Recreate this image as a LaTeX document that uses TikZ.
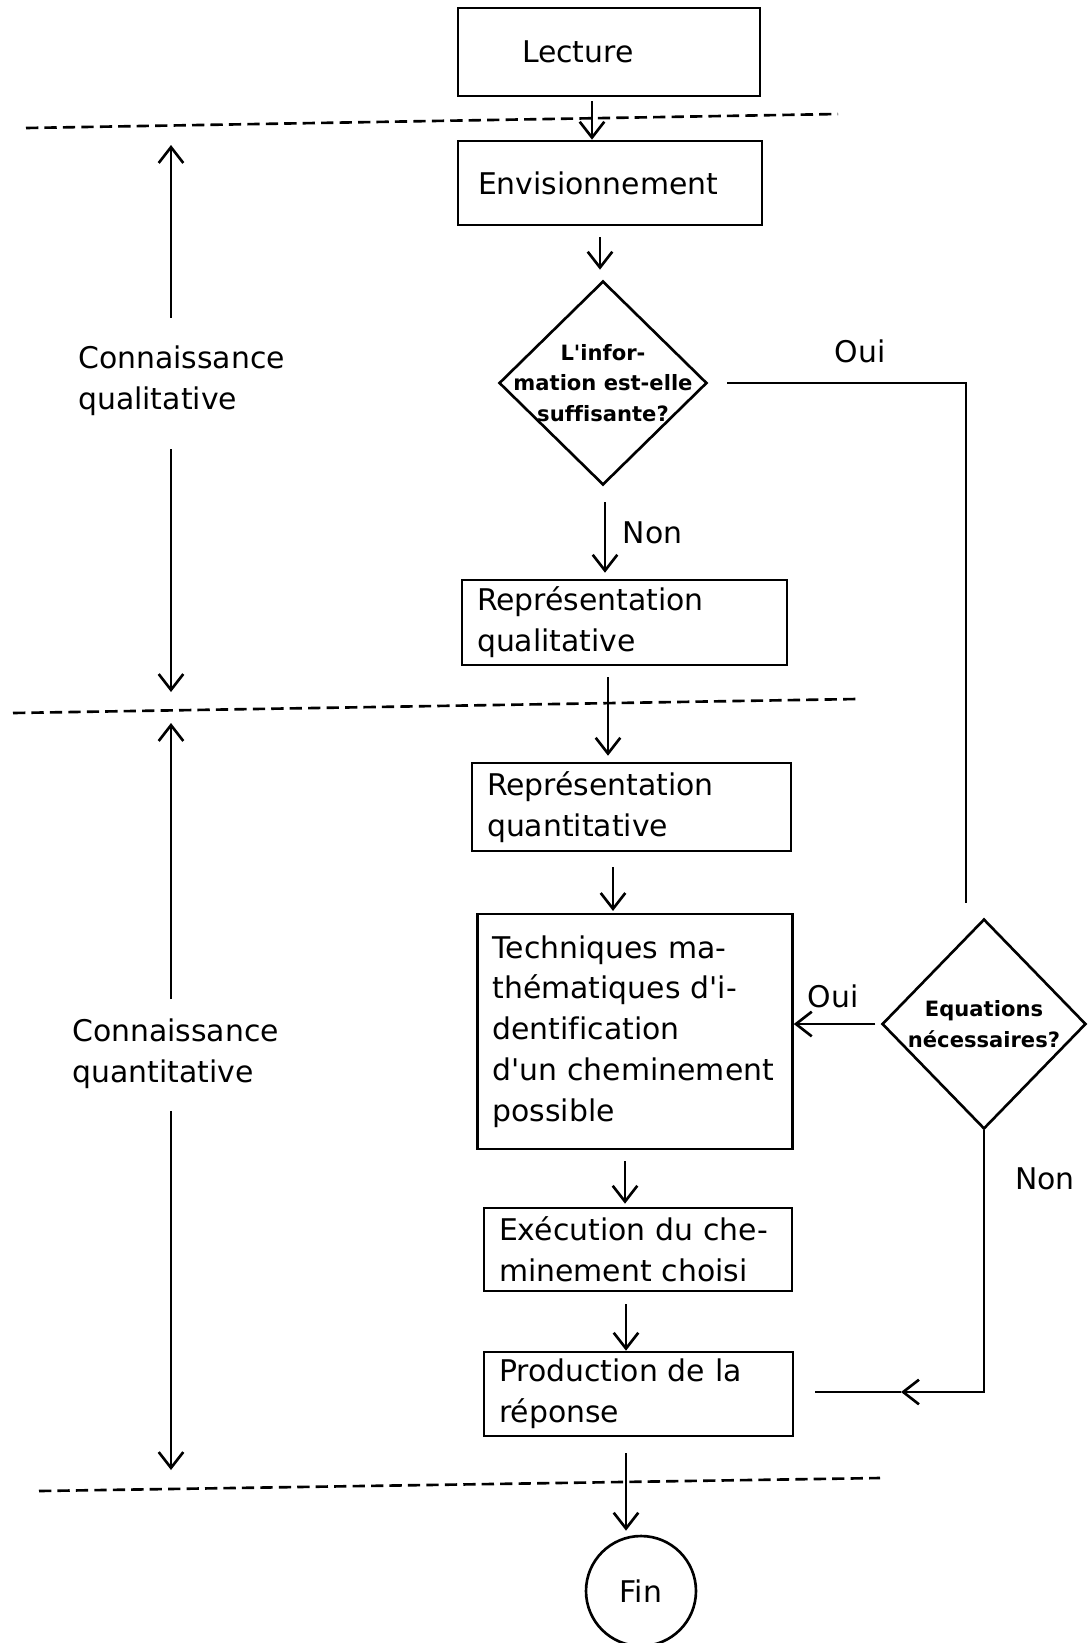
\documentclass[tikz,border=0pt]{standalone}
\usepackage{fontspec}
\setmainfont{DejaVu Sans}[Ligatures={TeXOff,CommonOff}]
\usetikzlibrary{arrows.meta,shapes.geometric}

\begin{document}
\begin{tikzpicture}[x=0.02cm,y=-0.02cm,line width=1.5pt,
  >={Straight Barb[length=9pt,width=14pt,line width=1.5pt]},
  txt/.style={font=\fontsize{17}{23.2}\selectfont},
  box/.style={draw,txt,align=left,inner xsep=0.3cm,inner ysep=0pt},
  dia/.style={draw,diamond,inner sep=0pt},
  qtxt/.style={font=\bfseries\fontsize{12}{17.3}\selectfont,align=center},
  sep/.style={dash pattern=on 7pt off 3.5pt}]
  \useasboundingbox (0,0) rectangle (1088,1643);
  \node[box,inner xsep=1.28cm,text width=3.48cm,minimum height=1.76cm] (lect) at (609,52) {Lecture};
  \node[box,inner xsep=0.4cm,text width=5.28cm,minimum height=1.68cm] (env) at (610,183) {Envisionnement};
  \node[dia,minimum width=4.16cm,minimum height=4.08cm] (q1) at (603,383) {};
  \node[qtxt] (q1txt) at (q1.center) {L'infor-\\mation est-elle\\suffisante?};
  \node[box,text width=5.9cm,minimum height=1.7cm] (repql) at (624.5,622.5) {Représentation\\qualitative};
  \node[box,text width=5.78cm,minimum height=1.76cm] (repqt) at (631.5,807) {Représentation\\quantitative};
  \node[box,text width=5.7cm,minimum height=4.7cm] (tech) at (635,1031.5) {Techniques ma-\\thématiques d'i-\\dentification\\d'un cheminement\\possible};
  \node[box,text width=5.56cm,minimum height=1.66cm] (exec) at (638,1249.5) {Exécution du che-\\minement choisi};
  \node[box,text width=5.58cm,minimum height=1.68cm] (prod) at (638.5,1394) {Production de la\\réponse};
  \node[draw,circle,txt,minimum size=2.2cm,inner sep=0pt] (fin) at (641,1591) {Fin};
  \node[dia,minimum width=4.08cm,minimum height=4.2cm] (q2) at (984,1024) {};
  \node[qtxt] (q2txt) at (q2.center) {Equations\\nécessaires?};

  \draw[sep] (26,128) -- (838,114);
  \draw[sep] (13,713) -- (857,699);
  \draw[sep] (39,1491) -- (880,1478);

  \draw[->,shorten <=2.3pt] (592,0 |- lect.south) -- (592,0 |- env.north);
  \draw[->,shorten <=6.3pt,shorten >=5.7pt] (600,0 |- env.south) -- (600,0 |- q1.north);
  \draw[->,shorten <=9pt,shorten >=3.4pt] (605,0 |- q1.south) -- (605,0 |- repql.north) node[txt,midway,right=6pt] (non1) {Non};
  \draw[->,shorten <=6.3pt,shorten >=3.4pt] (608,0 |- repql.south) -- (608,0 |- repqt.north);
  \draw[->,shorten <=8.5pt,shorten >=1pt] (613,0 |- repqt.south) -- (613,0 |- tech.north);
  \draw[->,shorten <=6.3pt,shorten >=1.7pt] (625,0 |- tech.south) -- (625,0 |- exec.north);
  \draw[->,shorten <=6.8pt] (626,0 |- exec.south) -- (626,0 |- prod.north);
  \draw[->,shorten <=9pt,shorten >=2.3pt] (626,0 |- prod.south) -- (626,0 |- fin.north);

  \coordinate (ouiend) at (966,903);
  \draw[shorten <=10.8pt] (q1.east) -| (ouiend);
  \node[txt] (oui1) at (860,351) {Oui};
  \draw[->,shorten <=3pt] (q2.west) -- (q2.west -| tech.east);
  \node[txt] (oui2) at (833,996) {Oui};
  \coordinate (nonmid) at (901,1392);
  \draw[->] (q2.south) |- (nonmid);
  \draw[shorten >=12pt] (nonmid) -- (nonmid -| prod.east);
  \node[txt] (non2) at (1045,1179) {Non};

  \node[txt,align=left,anchor=west] (qual) at (71,381) {Connaissance\\qualitative};
  \coordinate (qualtop) at (171,145);
  \coordinate (qualbot) at (171,692);
  \draw[->,shorten <=12pt] (qualtop |- qual.north) -- (qualtop);
  \draw[->,shorten <=15pt] (qualbot |- qual.south) -- (qualbot);
  \node[txt,align=left,anchor=west] (quant) at (65,1054) {Connaissance\\quantitative};
  \coordinate (quanttop) at (171,723);
  \coordinate (quantbot) at (171,1470);
  \draw[->,shorten <=7.4pt] (quanttop |- quant.north) -- (quanttop);
  \draw[->,shorten <=8.5pt] (quantbot |- quant.south) -- (quantbot);
\end{tikzpicture}
\end{document}
